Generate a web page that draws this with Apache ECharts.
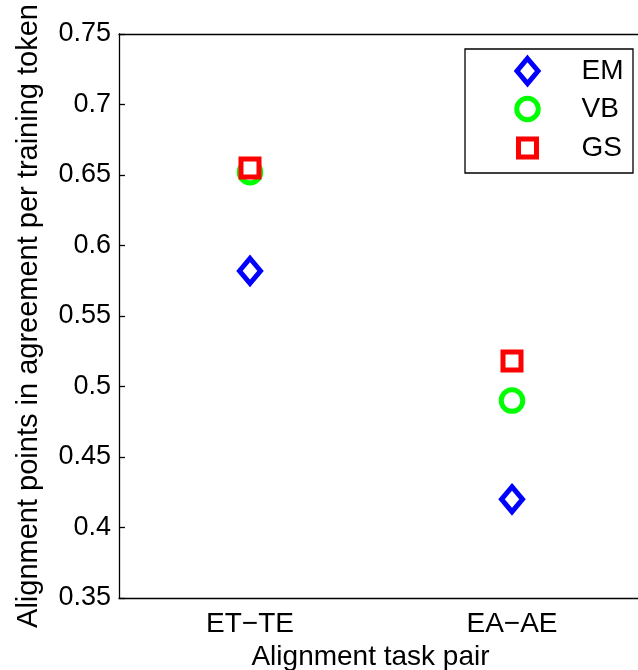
<!DOCTYPE html>
<html>
<head>
<meta charset="utf-8">
<script src="https://cdn.jsdelivr.net/npm/echarts@6/dist/echarts.min.js"></script>
<style>
html,body{margin:0;padding:0;background:#fff;}
#chart{width:638px;height:670px;}
</style>
</head>
<body>
<div id="chart"></div>
<script>
const categories = ['ET\u2212TE', 'EA\u2212AE'];
const emValues = [0.582, 0.420];
const vbValues = [0.652, 0.490];
const gsValues = [0.655, 0.518];
const yTicks = { min: 0.35, max: 0.75, interval: 0.05 };

const FONT = 'Liberation Sans, Arial, Helvetica, sans-serif';
const chart = echarts.init(document.getElementById('chart'), null, { renderer: 'canvas' });

function legendFor(name, iw, ih, centerY) {
  const lh = 30;
  return {
    data: [name],
    orient: 'vertical',
    left: 525 - iw / 2,
    top: centerY - Math.max(ih, lh) / 2,
    padding: 0,
    itemWidth: iw,
    itemHeight: ih,
    selectedMode: false,
    z: 10,
    itemStyle: { borderWidth: 5, borderJoin: 'miter' },
    textStyle: {
      fontFamily: FONT, fontSize: 28, color: '#000', lineHeight: lh,
      padding: [0, 0, 0, 49 - iw / 2]
    }
  };
}

const option = {
  animation: false,
  backgroundColor: '#fff',
  grid: { left: 119, top: 34, width: 524, height: 564, containLabel: false, outerBoundsMode: 'none' },
  xAxis: [{
    type: 'category',
    data: categories,
    boundaryGap: true,
    position: 'bottom',
    name: 'Alignment task pair',
    nameLocation: 'middle',
    nameGap: 42,
    nameTextStyle: { fontFamily: FONT, fontSize: 28, color: '#000', padding: [0, 21, 0, 0] },
    axisLine: { lineStyle: { color: '#000', width: 1.3 } },
    axisTick: { inside: true, length: 6, alignWithLabel: true, lineStyle: { color: '#000', width: 1.3 } },
    axisLabel: { fontFamily: FONT, fontSize: 28, color: '#000', margin: 12 },
    splitLine: { show: false }
  }, {
    type: 'category',
    data: categories,
    boundaryGap: true,
    position: 'top',
    axisLine: { lineStyle: { color: '#000', width: 1.3 } },
    axisTick: { inside: true, length: 6, alignWithLabel: true, lineStyle: { color: '#000', width: 1.3 } },
    axisLabel: { show: false },
    splitLine: { show: false }
  }],
  yAxis: {
    type: 'value',
    min: yTicks.min,
    max: yTicks.max,
    interval: yTicks.interval,
    name: 'Alignment points in agreement per training token',
    nameLocation: 'middle',
    nameGap: 76,
    nameTextStyle: { fontFamily: FONT, fontSize: 29, color: '#000' },
    axisLine: { show: true, lineStyle: { color: '#000', width: 1.3 } },
    axisTick: { show: true, inside: true, length: 6, lineStyle: { color: '#000', width: 1.3 } },
    axisLabel: { fontFamily: FONT, fontSize: 27, color: '#000', margin: 8 },
    splitLine: { show: false }
  },
  legend: [
    legendFor('EM', 21, 25, 71),
    legendFor('VB', 21.5, 21.5, 109),
    legendFor('GS', 18, 18, 148)
  ],
  graphic: [{
    type: 'rect',
    shape: { x: 465, y: 49, width: 168, height: 124 },
    style: { fill: '#fff', stroke: '#000', lineWidth: 1.3 },
    z: 1
  }],
  series: [{
    name: 'EM', type: 'scatter', data: emValues,
    symbol: 'diamond', symbolSize: [21, 25],
    itemStyle: { color: '#fff', borderColor: '#0000ff', borderWidth: 5, borderJoin: 'miter', opacity: 1 }
  }, {
    name: 'VB', type: 'scatter', data: vbValues,
    symbol: 'circle', symbolSize: 21.5,
    itemStyle: { color: '#fff', borderColor: '#00ff00', borderWidth: 5, opacity: 1 }
  }, {
    name: 'GS', type: 'scatter', data: gsValues,
    symbol: 'rect', symbolSize: 18,
    itemStyle: { color: '#fff', borderColor: '#ff0000', borderWidth: 5, borderJoin: 'miter', opacity: 1 }
  }]
};
chart.setOption(option);
</script>
</body>
</html>
